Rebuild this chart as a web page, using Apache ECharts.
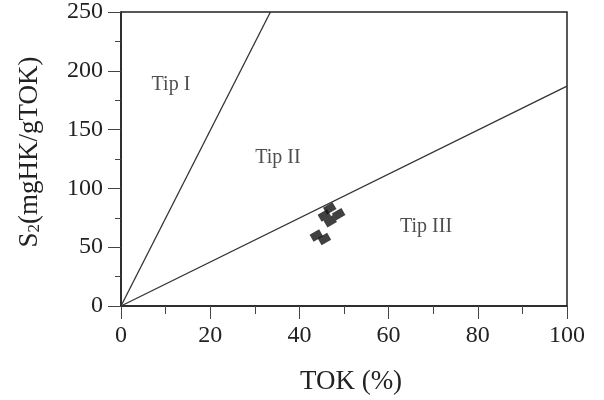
<!DOCTYPE html>
<html><head><meta charset="utf-8">
<script src="https://cdn.jsdelivr.net/npm/echarts@6/dist/echarts.min.js"></script>
<style>html,body{margin:0;padding:0;background:#fff}#c{width:604px;height:400px}</style>
</head><body><div id="c"></div>
<script>
// Boundary lines (type I/II and II/III), from origin
const lineTipI = [[0, 0], [33.5, 250]];
const lineTipII = [[0, 0], [100, 187]];
// Samples (TOK %, S2)
const samples = [[46.8, 83], [48.8, 78], [45.6, 77], [46.9, 72], [43.8, 60], [45.6, 57]];
// Region labels
const regionLabels = [[11.2, 188, 'Tip I'], [35.2, 126, 'Tip II'], [68.4, 67, 'Tip III']];

const font = 'Liberation Serif';
const chart = echarts.init(document.getElementById('c'));
chart.setOption({
  animation: false,
  backgroundColor: '#fff',
  grid: {left: 121, right: 37, top: 10, bottom: 94, show: true, borderColor: '#222', borderWidth: 1.5},
  xAxis: {
    type: 'value', min: 0, max: 100, interval: 20,
    name: 'TOK (%)', nameLocation: 'middle', nameGap: 62,
    nameTextStyle: {fontFamily: font, fontSize: 27, color: '#222', padding: [0, 0, 0, 14]},
    axisLine: {lineStyle: {color: '#222', width: 1.5}},
    axisTick: {inside: false, length: 13, lineStyle: {color: '#444'}},
    minorTick: {show: true, splitNumber: 2, length: 8, lineStyle: {color: '#444'}},
    splitLine: {show: false},
    axisLabel: {fontFamily: font, fontSize: 24, color: '#222', margin: 18}
  },
  yAxis: {
    type: 'value', min: 0, max: 250, interval: 50,
    name: 'S{sub|2}(mgHK/gTOK)', nameLocation: 'middle', nameGap: 78,
    nameTextStyle: {fontFamily: font, fontSize: 27, color: '#222', padding: [0, 0, 0, 14],
      rich: {sub: {fontFamily: font, fontSize: 17, color: '#222', verticalAlign: 'bottom', padding: [10, 0, 0, 0]}}},
    axisLine: {lineStyle: {color: '#222', width: 1.5}},
    axisTick: {inside: false, length: 13, lineStyle: {color: '#444'}},
    minorTick: {show: true, splitNumber: 2, length: 6, lineStyle: {color: '#444'}},
    splitLine: {show: false},
    axisLabel: {fontFamily: font, fontSize: 24, color: '#222', margin: 18}
  },
  series: [
    {type: 'line', data: lineTipI, symbol: 'none', lineStyle: {color: '#333', width: 1.3}, z: 2},
    {type: 'line', data: lineTipII, symbol: 'none', lineStyle: {color: '#333', width: 1.3}, z: 2},
    {type: 'scatter', data: samples, symbol: 'rect', symbolSize: [11, 8], symbolRotate: 30,
      itemStyle: {color: '#111'}, z: 3},
    {type: 'scatter', data: regionLabels, symbolSize: 0,
      label: {show: true, position: 'inside', formatter: p => p.value[2],
        fontFamily: font, fontSize: 20, color: '#222'}, z: 4}
  ]
});
</script></body></html>
